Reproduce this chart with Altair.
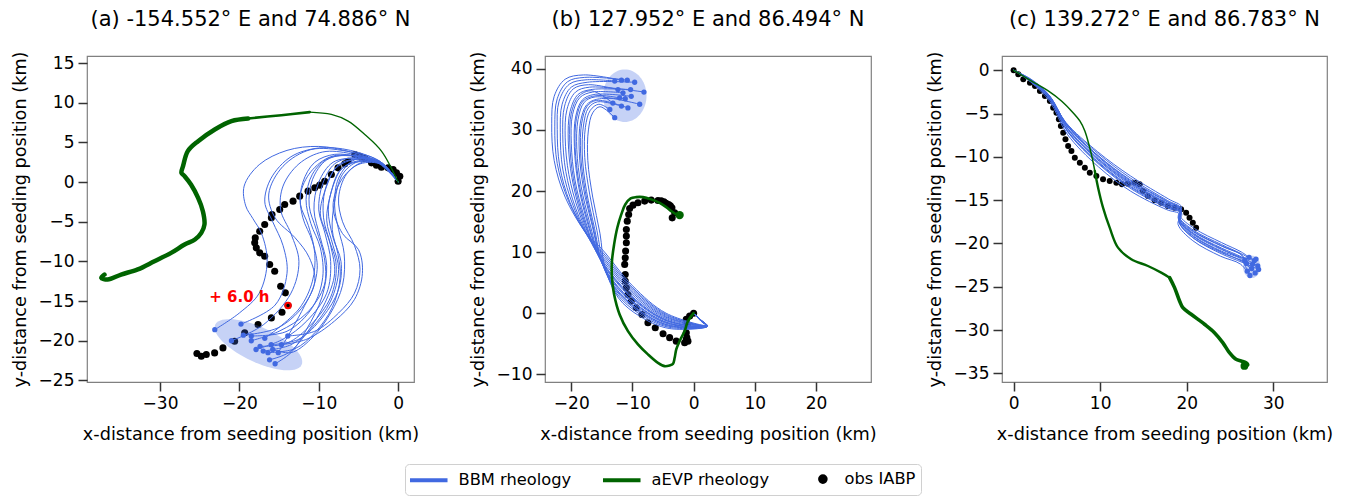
import altair as alt
import numpy as np
import pandas as pd

BLUE = "#4169e1"
GREEN = "#006400"
FONT = "DejaVu Sans"

TITLES = ["(a) -154.552° E and 74.886° N",
          "(b) 127.952° E and 86.494° N",
          "(c) 139.272° E and 86.783° N"]
X_TITLE = "x-distance from seeding position (km)"
Y_TITLE = "y-distance from seeding position (km)"
SERIES = ["BBM rheology", "aEVP rheology", "obs IABP"]

# ---------------- panel (a) ----------------
A_XDOM = [-39.2, 2.0]
A_YDOM = [-25.2, 15.9]
A_XTICKS = [-30, -20, -10, 0]
A_YTICKS = [-25, -20, -15, -10, -5, 0, 5, 10, 15]
A_OBS = [(0, 0.12), (0.21, 0.75), (-0.21, 1.17), (-0.63, 1.6), (-1.26, 1.8), (-2.1, 1.89),
         (-2.73, 2.14), (-3.36, 2.43), (-4.2, 2.98), (-4.83, 3.27), (-5.46, 3.48), (-6.3, 2.64),
         (-6.72, 2.3), (-7.57, 1.8), (-8.41, 0.96), (-9.25, 0.12), (-9.88, -0.38), (-10.5, -0.72),
         (-11.35, -1.14), (-12.4, -1.77), (-13.24, -2.4), (-14.29, -2.82), (-14.92, -3.45),
         (-15.89, -4.08), (-15.97, -4.5), (-16.81, -5.34), (-17.44, -6.19), (-18.0, -7.03),
         (-18.07, -7.66), (-17.87, -8.29), (-17.44, -8.92), (-16.81, -9.34), (-16.18, -10.39),
         (-15.55, -11.23), (-14.8, -13.12), (-14.21, -13.96), (-13.87, -15.56), (-14.63, -16.4),
         (-15.97, -17.12), (-17.65, -17.95), (-19.33, -19.0), (-20.6, -20.06), (-22.07, -20.9),
         (-23.12, -21.53), (-24.17, -21.74), (-24.8, -21.95), (-25.35, -21.6)]
A_GREEN = [(0, 0), (-2.1, 3.9), (-4.2, 6.0), (-6.3, 7.69), (-8.41, 8.53), (-11.14, 8.82),
           (-14.71, 8.44), (-18.9, 8.02), (-21.0, 7.69), (-23.1, 6.64), (-25.2, 5.16), (-26.5, 3.9),
           (-27.1, 2.01), (-27.3, 1.17), (-26.9, 0.75), (-26.1, -0.3), (-25.2, -1.99), (-24.6, -3.66),
           (-24.4, -5.34), (-24.8, -6.4), (-25.6, -7.24), (-26.9, -7.87), (-28.6, -8.92),
           (-30.7, -9.97), (-32.8, -11.0), (-34.9, -11.65), (-36.6, -12.28), (-37.4, -12.07),
           (-37.0, -11.65)]
A_GREEN_SEGS = [(0, 5, 1.3), (5, 7, 2.6), (7, 28, 4.5)]
A_RUNS = [
    [(0, 0), (-2, 2.3), (-6, 3.8), (-10, 4.5), (-14, 4), (-17.5, 2.2), (-19.4, -0.5), (-19.2, -3), (-18.3, -4.6), (-17.2, -6.5), (-16.5, -10), (-17.5, -14), (-20, -16.5), (-23.1, -18.6)],
    [(0, 0), (-2, 2.4), (-6, 4.0), (-10, 4.3), (-13.5, 3.2), (-16, 0.5), (-16.8, -2.5), (-15.8, -5), (-14.5, -8), (-14, -11.5), (-15.5, -15.5), (-19.8, -17.9)],
    [(0, 0), (-2.5, 2.5), (-6, 3.6), (-9.5, 3.8), (-12.5, 2.3), (-14.5, -0.5), (-14.8, -3.5), (-13.5, -6.5), (-12.5, -10), (-13.5, -14), (-17, -18), (-21, -20)],
    [(0, 0), (-2.5, 2.4), (-5.5, 3.3), (-8.5, 3.2), (-11, 1.3), (-12.3, -1.5), (-12, -4.5), (-10.8, -7.5), (-10.2, -11), (-11.5, -15), (-15, -18.3), (-19.5, -19.3)],
    [(0, 0), (-2.5, 2.6), (-6, 3.4), (-9, 2.8), (-10.8, 0.3), (-11.2, -3), (-10.3, -6), (-9.3, -9.5), (-9.3, -13), (-11.5, -16.5), (-15, -18.8), (-18.5, -20)],
    [(0, 0), (-2.5, 2.5), (-5.5, 3.1), (-8, 2.3), (-9.5, -0.2), (-10, -3.5), (-9.2, -6.5), (-8.5, -10), (-9, -14), (-11.5, -17.5), (-14.5, -19.8), (-17.9, -21.1)],
    [(0, 0), (-2, 2.2), (-5, 2.9), (-7.5, 2.2), (-9, -0.5), (-9.8, -4), (-8.8, -7), (-7.8, -10.5), (-8.5, -14.5), (-11, -18), (-14, -20.3), (-17.4, -20.7)],
    [(0, 0), (-2, 2.3), (-5, 2.7), (-7.3, 1.5), (-8.5, -1.5), (-9, -4.8), (-8.2, -8), (-7.5, -11), (-8.5, -15), (-11, -18.5), (-13.5, -20.5), (-17, -21.3)],
    [(0, 0), (-2.2, 2.4), (-5, 2.6), (-7, 1), (-8, -2.5), (-8.3, -6), (-7.6, -9), (-7.3, -12), (-8.3, -15.8), (-10.5, -19), (-13, -21), (-16.4, -21.5)],
    [(0, 0), (-2.3, 2.6), (-5.5, 2.8), (-7.5, 0.5), (-8, -3), (-7.5, -6), (-6.8, -9), (-7, -13), (-8.5, -16.5), (-11, -19.8), (-13.5, -21.5), (-15.8, -21.1)],
    [(0, 0), (-2, 2.3), (-4.5, 2.5), (-6.5, 1), (-7.5, -2), (-7, -5), (-5.5, -8), (-4.8, -11), (-5.5, -14), (-7.5, -16.5), (-10.5, -18.8), (-13.9, -19.4)],
    [(0, 0), (-2, 2.2), (-4.8, 2.3), (-7, 0.5), (-8.2, -3), (-7, -6.5), (-5, -8.5), (-4.5, -11.5), (-5.5, -14.8), (-8, -17.5), (-11.5, -19.8), (-14.7, -20.5)],
    [(0, 0), (-2.3, 2.5), (-5.2, 2.9), (-7.8, 1.8), (-9.2, -1), (-9.4, -4.5), (-8.5, -8), (-8, -11.5), (-9.2, -15.2), (-11.5, -19), (-13.8, -21.5), (-16.2, -22.4)],
    [(0, 0), (-2.1, 2.4), (-5.3, 3), (-8.2, 2.5), (-10, 0), (-10.6, -3.5), (-9.8, -7), (-9, -10.5), (-9.6, -14.5), (-11.5, -18.5), (-13.5, -21.5), (-15.5, -22.9)],
    [(0, 0), (-2.4, 2.7), (-6.5, 3.9), (-11, 4.1), (-14.5, 2), (-16.3, -1.5), (-15.5, -4.5), (-13, -7), (-11.2, -9.5), (-10.5, -12.5), (-12, -16), (-15.1, -21.5)],
    [(0, 0), (-2.2, 2.3), (-5, 3.2), (-8, 3.5), (-10.5, 2.5), (-12, 0), (-12.3, -2.8), (-11.3, -5.5), (-10.5, -9), (-10.8, -12.5), (-12.5, -16), (-16.8, -19.7)],
    [(0, 0), (-2, 2.2), (-4.7, 2.6), (-7, 1.8), (-8.2, -0.5), (-8.8, -3.5), (-8.2, -7), (-7.2, -10), (-7.5, -13.5), (-9.5, -17), (-12.5, -19.8), (-16, -20.5)],
    [(0, 0), (-2.3, 2.4), (-5.8, 3.3), (-8.8, 3.0), (-10.8, 1.0), (-11.6, -2.2), (-11, -5.2), (-9.8, -8.3), (-9.5, -12), (-10.8, -15.8), (-14, -18.8), (-18.5, -19.4)],
]
A_ELLIPSE = (-17.6, -20.5, 6.0, 2.2, -25.0)   # centre x, centre y, semi-axis 1, semi-axis 2, angle
A_MARK = (-13.87, -15.56)
A_NOTE = (-20.0, -14.5, "+ 6.0 h")

# ---------------- panel (b) ----------------
B_XDOM = [-24.3, 29.0]
B_YDOM = [-11.26, 42.1]
B_XTICKS = [-20, -10, 0, 10, 20]
B_YTICKS = [-10, 0, 10, 20, 30, 40]
B_OBS = [(0, 0), (-0.65, -0.47), (-1.2, -1.0), (-1.04, -1.83), (-1.2, -3.2), (-1.1, -4.0),
         (-0.93, -4.57), (-1.47, -4.84), (-1.2, -4.3), (-2.84, -4.57), (-3.92, -4.0), (-5.0, -3.37),
         (-6.27, -2.39), (-7.47, -1.57), (-8.45, -0.2), (-9.38, 0.88), (-10.2, 1.98), (-10.74, 3.07),
         (-11.0, 4.16), (-11.18, 5.25), (-11.18, 6.35), (-11.27, 7.99), (-11.18, 9.07),
         (-11.12, 10.17), (-11.0, 11.53), (-11.0, 12.62), (-11.0, 13.71), (-10.85, 15.07),
         (-10.62, 16.17), (-10.46, 17.15), (-9.92, 17.69), (-9.1, 18.07), (-8.0, 18.35),
         (-6.93, 18.51), (-5.83, 18.46), (-5.3, 18.4), (-4.85, 18.23), (-4.5, 18.0), (-4.08, 17.8),
         (-3.8, 17.6), (-3.55, 17.25), (-3.1, 16.43), (-3.5, 15.61)]
B_GREEN = [(0, 0), (-0.93, -1.29), (-1.47, -2.93), (-2.29, -4.57), (-2.84, -5.93), (-3.1, -7.3),
           (-3.38, -8.28), (-3.92, -8.54), (-4.74, -8.66), (-5.83, -8.12), (-7.47, -6.74),
           (-9.1, -5.1), (-10.74, -2.93), (-12.1, -0.2), (-13.0, 3.07), (-13.35, 5.79),
           (-13.35, 8.53), (-13.0, 11.26), (-12.48, 13.98), (-11.83, 16.17), (-11.18, 17.8),
           (-10.3, 18.79), (-9.38, 19.0), (-8.28, 19.0), (-6.93, 18.63), (-5.56, 18.07),
           (-4.48, 17.37), (-3.66, 16.71), (-2.84, 16.17), (-2.29, 16.06)]
B_GREEN_SEGS = [(0, 29, 2.6)]
B_RUNS = [
    [(0, 0), (1.3, -1.2), (2.2, -2.0), (-4.5, 0.0), (-10.0, 4.5), (-15.0, 10.5), (-17.5, 13), (-21, 19), (-22.8, 25), (-23.2, 31), (-22.8, 35.5), (-21, 38.3), (-18, 39), (-11.8, 38.15)],
    [(0, 0), (1.3, -1.3), (2.2, -2.1), (-4.46, -0.2), (-9.91, 4.1), (-14.78, 9.86), (-17.3, 12.6), (-20.5, 18.5), (-22.3, 24.5), (-22.7, 30.5), (-22.3, 35.1), (-20.6, 37.9), (-17.8, 38.6), (-10.85, 38.15)],
    [(0, 0), (1.2, -1.2), (2.1, -2.0), (-4.43, -0.38), (-9.82, 3.76), (-14.6, 9.3), (-17.0, 12.2), (-20.2, 18.1), (-21.9, 24.1), (-22.3, 30.1), (-22.0, 34.7), (-20.3, 37.5), (-17.6, 38.2), (-12.9, 38.0)],
    [(0, 0), (1.3, -1.3), (2.2, -2.1), (-4.39, -0.58), (-9.73, 3.36), (-14.38, 8.66), (-16.8, 11.7), (-19.7, 17.6), (-21.4, 23.6), (-21.8, 29.6), (-21.5, 34.2), (-20.0, 37.0), (-17.4, 37.8), (-9.64, 37.8)],
    [(0, 0), (1.3, -1.2), (2.2, -2.0), (-4.35, -0.75), (-9.64, 3.0), (-14.19, 8.1), (-16.6, 11.4), (-19.3, 17.2), (-20.9, 23.2), (-21.4, 29.2), (-21.1, 33.9), (-19.7, 36.7), (-17.2, 37.4), (-12.37, 36.6)],
    [(0, 0), (1.3, -1.3), (2.3, -2.1), (-4.31, -0.95), (-9.55, 2.6), (-13.97, 7.46), (-16.4, 10.9), (-18.8, 16.7), (-20.4, 22.7), (-21.0, 28.7), (-20.7, 33.4), (-19.3, 36.2), (-17.0, 37.0), (-8.12, 36.2)],
    [(0, 0), (1.2, -1.3), (2.2, -2.2), (-4.27, -1.15), (-9.45, 2.2), (-13.76, 6.82), (-16.1, 10.5), (-18.4, 16.2), (-19.9, 22.2), (-20.5, 28.2), (-20.2, 33.0), (-18.9, 35.8), (-16.8, 36.6), (-10.3, 36.6)],
    [(0, 0), (1.3, -1.2), (2.2, -2.1), (-4.25, -1.25), (-9.4, 2.0), (-13.65, 6.5), (-16.0, 10.25), (-18.15, 16.0), (-19.65, 22.0), (-20.25, 28.0), (-20.0, 32.75), (-18.75, 35.55), (-16.65, 36.4), (-13.2, 34.4)],
    [(0, 0), (1.3, -1.2), (2.2, -2.1), (-4.23, -1.35), (-9.35, 1.8), (-13.54, 6.18), (-15.9, 10.0), (-17.9, 15.8), (-19.4, 21.8), (-20.0, 27.8), (-19.8, 32.5), (-18.6, 35.3), (-16.5, 36.2), (-11.55, 36.07)],
    [(0, 0), (1.3, -1.3), (2.2, -2.2), (-4.19, -1.55), (-9.25, 1.4), (-13.33, 5.54), (-15.6, 9.6), (-17.5, 15.3), (-18.9, 21.3), (-19.5, 27.3), (-19.3, 32.1), (-18.2, 34.9), (-16.3, 35.8), (-10.2, 35.5)],
    [(0, 0), (1.2, -1.2), (2.2, -2.1), (-4.18, -1.63), (-9.22, 1.26), (-13.25, 5.3), (-15.55, 9.43), (-17.3, 15.1), (-18.7, 21.1), (-19.37, 27.1), (-19.15, 31.9), (-18.08, 34.72), (-15.95, 35.6), (-12.1, 35.25)],
    [(0, 0), (1.3, -1.2), (2.1, -2.1), (-4.15, -1.75), (-9.16, 1.0), (-13.11, 4.9), (-15.4, 9.2), (-17.0, 14.8), (-18.4, 20.8), (-19.1, 26.8), (-18.9, 31.7), (-17.9, 34.5), (-16.1, 35.4), (-8.82, 34.2)],
    [(0, 0), (1.3, -1.3), (2.2, -2.1), (-4.12, -1.93), (-9.07, 0.65), (-12.92, 4.34), (-15.2, 8.8), (-16.6, 14.4), (-18.0, 20.4), (-18.7, 26.4), (-18.5, 31.3), (-17.5, 34.1), (-15.9, 35.0), (-11.18, 35.1)],
    [(0, 0), (1.3, -1.3), (2.2, -2.2), (-4.1, -2.0), (-9.04, 0.5), (-12.84, 4.1), (-15.1, 8.6), (-16.44, 14.2), (-17.76, 20.2), (-18.48, 26.2), (-18.3, 31.1), (-17.4, 33.9), (-15.84, 34.84), (-10.74, 33.6)],
    [(0, 0), (1.2, -1.2), (2.2, -2.0), (-4.08, -2.13), (-8.98, 0.25), (-12.7, 3.7), (-15.0, 8.3), (-16.2, 13.9), (-17.5, 19.9), (-18.2, 25.9), (-18.0, 30.8), (-17.2, 33.6), (-15.7, 34.6), (-11.8, 33.9)],
    [(0, 0), (1.3, -1.3), (2.2, -2.1), (-4.04, -2.3), (-8.89, -0.1), (-12.52, 3.14), (-14.7, 7.9), (-15.8, 13.5), (-17.0, 19.5), (-17.8, 25.5), (-17.7, 30.4), (-16.9, 33.2), (-15.5, 34.2), (-13.7, 33.35)],
    [(0, 0), (1.3, -1.2), (2.2, -2.1), (-4.0, -2.5), (-8.8, -0.5), (-12.3, 2.5), (-14.5, 7.5), (-15.3, 13), (-16.5, 19), (-17.3, 25), (-17.2, 30), (-16.5, 32.8), (-15.3, 33.8), (-12.9, 32.0)],
]
B_ELLIPSE = (-11.25, 35.6, 3.55, 4.3, 0.0)

# ---------------- panel (c) ----------------
C_XDOM = [-1.34, 36.2]
C_YDOM = [-36.0, 1.65]
C_XTICKS = [0, 10, 20, 30]
C_YTICKS = [-35, -30, -25, -20, -15, -10, -5, 0]
C_OBS = [(0, 0), (0.54, -0.46), (1.12, -1.04), (1.89, -1.43), (2.47, -1.81), (3.04, -2.39),
         (3.62, -2.97), (4.19, -3.55), (4.57, -4.32), (4.95, -4.9), (5.23, -5.66), (5.46, -6.43),
         (5.73, -7.2), (5.99, -7.97), (6.3, -8.74), (6.68, -9.32), (7.07, -10.09), (7.65, -10.67),
         (8.23, -11.25), (8.8, -11.82), (9.56, -12.2), (10.33, -12.59), (11.1, -12.78),
         (11.87, -12.98), (12.52, -13.16), (13.21, -13.09), (13.99, -12.98), (14.56, -13.16),
         (14.94, -13.94), (15.52, -14.52), (16.29, -15.01), (17.05, -15.29), (17.82, -15.67),
         (18.59, -15.87), (19.35, -16.05), (19.93, -16.44), (20.32, -17.02), (20.7, -17.6),
         (21.08, -18.18)]
C_GREEN = [(0, 0), (2.07, -1.24), (4.0, -2.39), (5.53, -3.55), (6.68, -4.7), (7.65, -5.85),
           (8.23, -7.01), (8.69, -8.55), (9.07, -10.09), (9.38, -11.63), (9.76, -13.56),
           (10.33, -15.87), (11.1, -18.18), (12.06, -20.48), (13.59, -21.82), (15.52, -22.6),
           (17.05, -23.37), (18.02, -23.95), (18.59, -25.1), (19.17, -26.64), (19.55, -27.41),
           (20.51, -28.18), (22.05, -29.33), (23.2, -30.3), (24.16, -31.45), (24.93, -32.61),
           (25.69, -33.37), (26.27, -33.57), (26.84, -33.76), (27.04, -34.03), (26.66, -34.14)]
C_GREEN_SEGS = [(0, 9, 1.5), (9, 17, 2.4), (17, 30, 3.6)]
C_RUNS = [
    [(0, 0), (2.0, -1.02), (4.0, -2.75), (6.0, -5.98), (9.7, -9.4), (13.5, -12.2), (17.9, -14.87), (19.4, -15.75), (19.2, -16.76), (20.9, -18.28), (24.0, -19.89), (26.3, -20.98), (27.2, -21.6)],
    [(0, 0), (2.0, -1.07), (4.1, -2.88), (6.1, -6.18), (9.8, -9.65), (13.5, -12.45), (17.8, -15.05), (19.3, -15.88), (19.1, -16.91), (20.8, -18.48), (24.0, -20.12), (26.3, -21.18), (27.8, -22.0)],
    [(0, 0), (2.0, -1.12), (4.2, -3.0), (6.2, -6.38), (9.8, -9.9), (13.4, -12.7), (17.8, -15.22), (19.3, -16.0), (19.0, -17.06), (20.8, -18.68), (24.1, -20.34), (26.4, -21.38), (26.9, -22.3)],
    [(0, 0), (2.0, -1.16), (4.2, -3.1), (6.3, -6.54), (9.9, -10.1), (13.5, -12.9), (17.8, -15.36), (19.4, -16.1), (19.1, -17.18), (20.8, -18.84), (24.0, -20.52), (26.3, -21.54), (28.2, -22.6)],
    [(0, 0), (2.0, -1.2), (4.2, -3.2), (6.2, -6.7), (9.8, -10.3), (13.5, -13.1), (17.8, -15.5), (19.3, -16.2), (19.1, -17.3), (20.8, -19.0), (24.0, -20.7), (26.3, -21.7), (27.5, -22.9)],
    [(0, 0), (2.0, -1.24), (4.3, -3.3), (6.3, -6.86), (9.9, -10.5), (13.6, -13.3), (17.8, -15.64), (19.3, -16.3), (19.2, -17.42), (20.8, -19.16), (24.0, -20.88), (26.3, -21.86), (27.0, -23.2)],
    [(0, 0), (2.0, -1.28), (4.2, -3.4), (6.2, -7.02), (9.8, -10.7), (13.5, -13.5), (17.7, -15.78), (19.3, -16.4), (19.1, -17.54), (20.7, -19.32), (24.0, -21.06), (26.3, -22.02), (27.9, -23.4)],
    [(0, 0), (2.0, -1.32), (4.3, -3.5), (6.3, -7.18), (9.9, -10.9), (13.6, -13.7), (17.8, -15.92), (19.4, -16.5), (19.2, -17.66), (20.9, -19.48), (24.1, -21.24), (26.4, -22.18), (28.3, -23.0)],
    [(0, 0), (2.0, -1.37), (4.2, -3.63), (6.2, -7.38), (9.8, -11.15), (13.5, -13.95), (17.7, -16.1), (19.2, -16.63), (19.0, -17.81), (20.7, -19.68), (23.9, -21.47), (26.2, -22.38), (27.3, -23.7)],
    [(0, 0), (2.0, -1.1), (4.1, -2.95), (6.1, -6.3), (9.7, -9.8), (13.4, -12.6), (17.8, -15.15), (19.3, -15.95), (19.1, -17.0), (20.8, -18.6), (24.0, -20.25), (26.3, -21.3), (26.7, -21.9)],
    [(0, 0), (2.0, -1.26), (4.2, -3.35), (6.2, -6.94), (9.8, -10.6), (13.5, -13.4), (17.8, -15.71), (19.3, -16.35), (19.1, -17.48), (20.8, -19.24), (24.0, -20.97), (26.3, -21.94), (27.6, -22.4)],
    [(0, 0), (2.0, -1.18), (4.2, -3.15), (6.2, -6.62), (9.8, -10.2), (13.5, -13.0), (17.8, -15.43), (19.3, -16.15), (19.1, -17.24), (20.8, -18.92), (24.0, -20.61), (26.3, -21.62), (28.0, -21.8)],
]
C_ELLIPSE = (27.5, -22.7, 1.0, 1.3, 0.0)

PANEL_W = [327, 326, 325]
PANEL_H = 326

# legend symbols (unit-square paths): a horizontal stroke for model runs, a dot for observations
LINE_SYMBOL = "M-1.25,0L3.44,0"
DOT_SYMBOL = ("M1.76,0A0.35,0.35,0,1,1,2.46,0A0.35,0.35,0,1,1,1.76,0Z"
              "M1.96,0A0.15,0.15,0,1,1,2.26,0A0.15,0.15,0,1,1,1.96,0Z"
              "M2.11,-0.1L2.11,0.1")


def pts_df(pts):
    df = pd.DataFrame(pts, columns=["x", "y"])
    df["i"] = range(len(df))
    return df


def runs_df(runs):
    rows = []
    for m, run in enumerate(runs):
        for i, (x, y) in enumerate(run):
            rows.append({"member": m, "i": i, "x": x, "y": y})
    return pd.DataFrame(rows)


def ellipse_df(ell):
    cx, cy, a, b, ang = ell
    t = np.linspace(0, 2 * np.pi, 73)
    th = np.deg2rad(ang)
    ex, ey = a * np.cos(t), b * np.sin(t)
    return pd.DataFrame({"i": range(len(t)),
                         "x": cx + ex * np.cos(th) - ey * np.sin(th),
                         "y": cy + ex * np.sin(th) + ey * np.cos(th)})


def panel(k, xdom, ydom, xticks, yticks, obs, green, green_segs, runs, ell,
          obs_size, end_size, green_end=None, mark=None, note=None, legend=False):
    X = alt.X("x:Q", scale=alt.Scale(domain=xdom, nice=False, zero=False),
              axis=alt.Axis(values=xticks, title=X_TITLE))
    Y = alt.Y("y:Q", scale=alt.Scale(domain=ydom, nice=False, zero=False),
              axis=alt.Axis(values=yticks, title=Y_TITLE))
    layers = []
    layers.append(alt.Chart(pts_df(obs)).mark_circle(color="black", size=obs_size, opacity=1)
                  .encode(x=X, y=Y))
    layers.append(alt.Chart(runs_df(runs)).mark_line(color=BLUE, strokeWidth=1,
                                                     interpolate="catmull-rom")
                  .encode(x=X, y=Y, detail="member:N", order="i:Q"))
    ends = pts_df([r[-1] for r in runs])
    layers.append(alt.Chart(ends).mark_circle(color=BLUE, size=end_size, opacity=1)
                  .encode(x=X, y=Y))
    for s, e, w in green_segs:
        layers.append(alt.Chart(pts_df(green[s:e + 1])).mark_line(
            color=GREEN, strokeWidth=w, interpolate="catmull-rom", strokeCap="round",
            strokeJoin="round").encode(x=X, y=Y, order="i:Q"))
    if green_end is not None:
        layers.append(alt.Chart(pts_df([green[-1]])).mark_circle(color=GREEN, size=green_end,
                                                                   opacity=1)
                      .encode(x=X, y=Y))
    layers.append(alt.Chart(ellipse_df(ell)).mark_line(filled=True, fill=BLUE, fillOpacity=0.3,
                                                        strokeOpacity=0)
                  .encode(x=X, y=Y, order="i:Q"))
    if mark is not None:
        layers.append(alt.Chart(pts_df([mark])).mark_circle(color="red", size=55, opacity=1)
                      .encode(x=X, y=Y))
        layers.append(alt.Chart(pts_df([mark])).mark_circle(color="black", size=12, opacity=1)
                      .encode(x=X, y=Y))
    if note is not None:
        ndf = pd.DataFrame({"x": [note[0]], "y": [note[1]], "t": [note[2]]})
        layers.append(alt.Chart(ndf).mark_text(color="red", fontSize=15, fontWeight="bold",
                                               font=FONT, align="center", baseline="middle")
                      .encode(x=X, y=Y, text="t:N"))
    if legend:
        ldf = pd.DataFrame({"series": SERIES, "x": [xdom[0] - 100] * 3, "y": [ydom[0] - 100] * 3})
        leg = alt.Legend(orient="none", legendX=318, legendY=408, direction="horizontal",
                         title=None, labelFontSize=16.3, labelFont=FONT, labelColor="black",
                         symbolStrokeWidth=4, symbolSize=256, strokeColor="#d0d0d0",
                         fillColor="white", padding=5, cornerRadius=4, columnPadding=18,
                         gridAlign="all", labelOffset=28.5, symbolOpacity=1)
        layers.append(alt.Chart(ldf).mark_point(filled=False, clip=True, strokeWidth=4, opacity=1,
                                                size=256)
                      .encode(x=X, y=Y,
                              color=alt.Color("series:N", sort=SERIES,
                                              scale=alt.Scale(domain=SERIES,
                                                              range=[BLUE, GREEN, "black"]),
                                              legend=leg),
                              shape=alt.Shape("series:N", sort=SERIES,
                                              scale=alt.Scale(domain=SERIES,
                                                              range=[LINE_SYMBOL, LINE_SYMBOL,
                                                                     DOT_SYMBOL]),
                                              legend=leg)))
    return alt.layer(*layers).properties(
        width=PANEL_W[k], height=PANEL_H,
        title=alt.TitleParams(TITLES[k], fontSize=21, font=FONT, fontWeight="normal",
                              anchor="middle", offset=21, color="black"))


pa = panel(0, A_XDOM, A_YDOM, A_XTICKS, A_YTICKS, A_OBS, A_GREEN, A_GREEN_SEGS, A_RUNS,
           A_ELLIPSE, 50, 28, mark=A_MARK, note=A_NOTE)
pb = panel(1, B_XDOM, B_YDOM, B_XTICKS, B_YTICKS, B_OBS, B_GREEN, B_GREEN_SEGS, B_RUNS,
           B_ELLIPSE, 50, 28, green_end=70, legend=True)
pc = panel(2, C_XDOM, C_YDOM, C_XTICKS, C_YTICKS, C_OBS, C_GREEN, C_GREEN_SEGS, C_RUNS,
           C_ELLIPSE, 36, 28, green_end=60)

chart = alt.hconcat(pa, pb, pc, spacing=48).properties(
    padding={"left": 2, "top": 0, "right": 2, "bottom": 0}
).configure_axis(
    labelFont=FONT, titleFont=FONT, labelFontSize=17, titleFontSize=17.7,
    titleFontWeight="normal", tickSize=9, tickWidth=1.5, tickColor="#333333",
    labelColor="black", titleColor="black", grid=False, domain=False, labelPadding=4
).configure_axisX(titlePadding=14).configure_axisY(titlePadding=9).configure_view(
    stroke="#808080", strokeWidth=1.2
)

chart.save("out.html", embed_options={"renderer": "svg", "actions": False})
